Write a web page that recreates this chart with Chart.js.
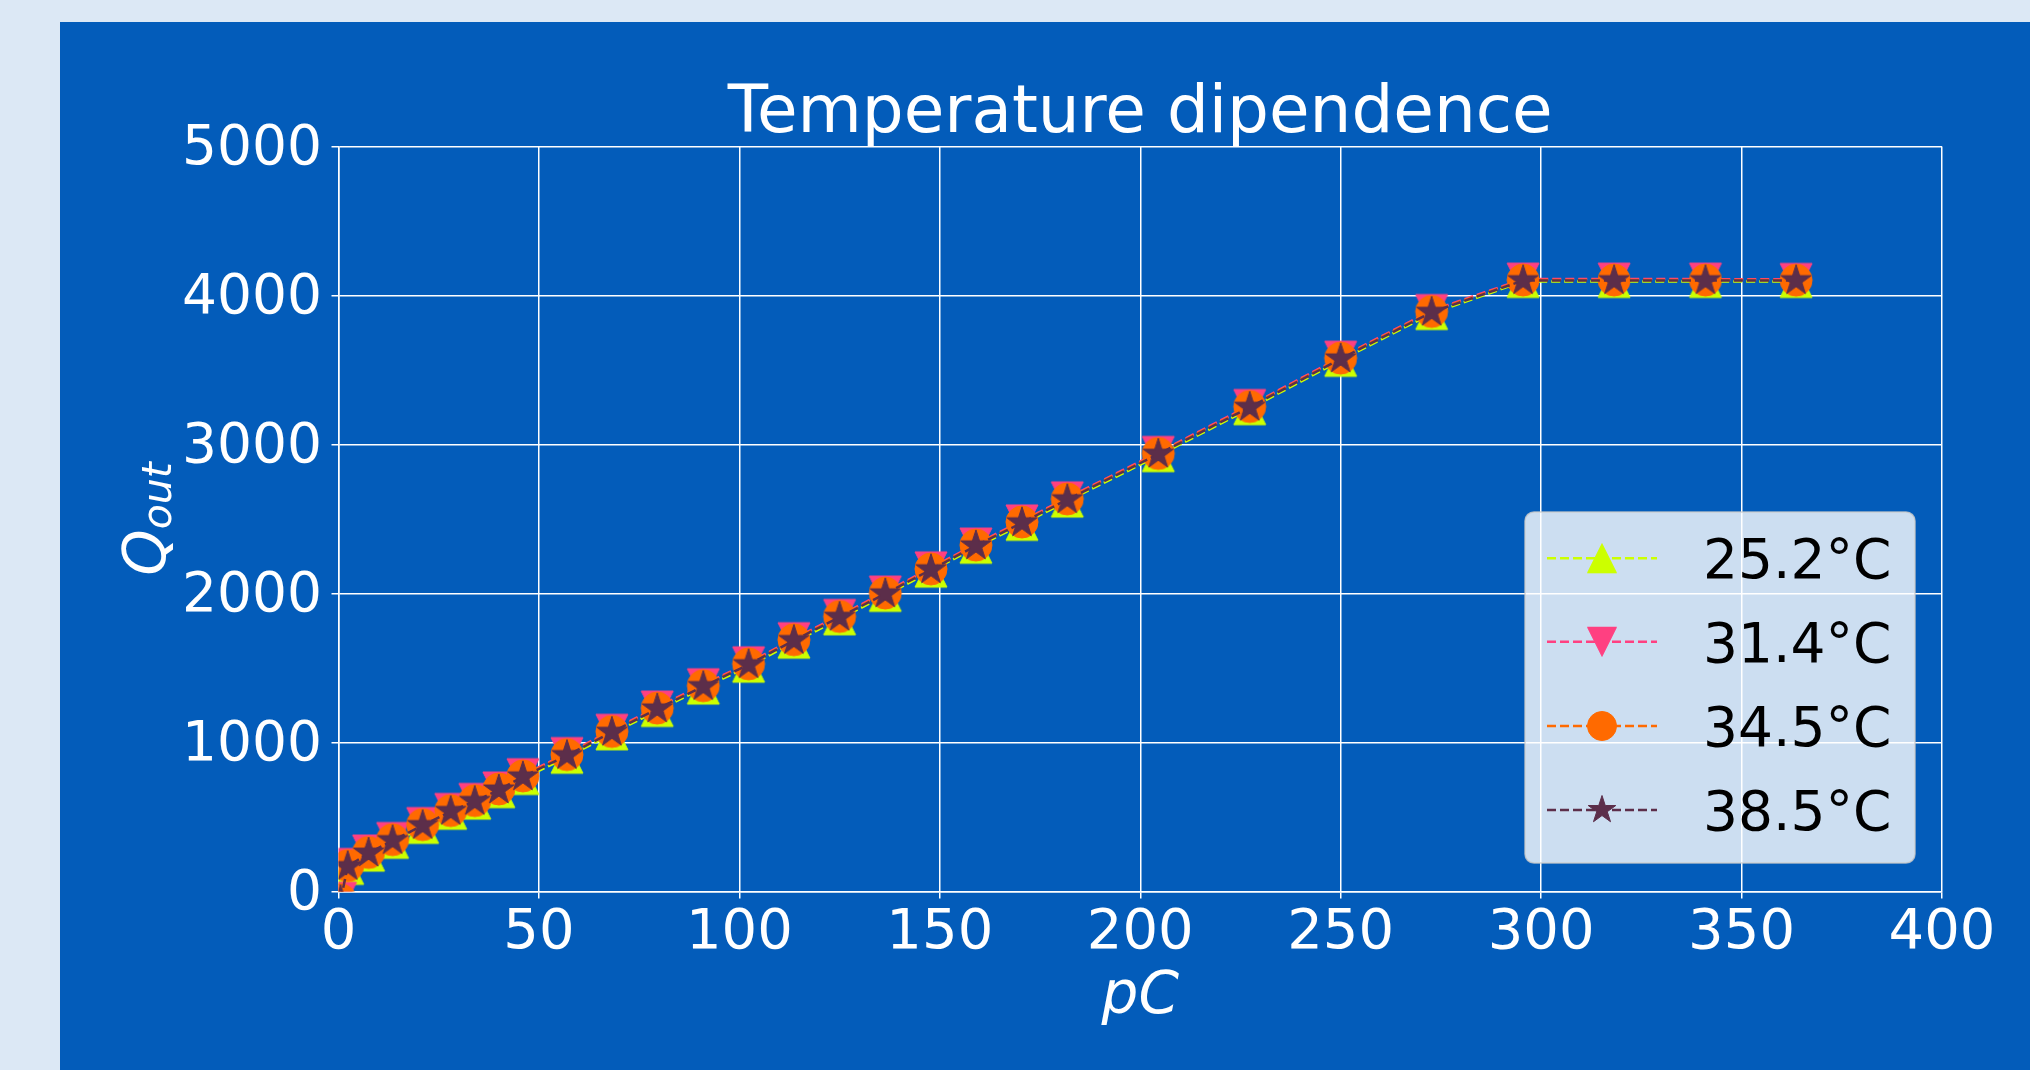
<!DOCTYPE html>
<html>
<head>
<meta charset="utf-8">
<title>Temperature dipendence</title>
<script src="https://cdn.jsdelivr.net/npm/chart.js@4.4.1/dist/chart.umd.min.js"></script>
<style>
  html, body { margin: 0; padding: 0; background: #dce8f5; }
  canvas { display: block; }
</style>
</head>
<body>
<canvas id="grafica" width="2030" height="1070"></canvas>
<script>
// datos
const pC = [0.5, 2.3, 7.5, 13.5, 21, 28, 34, 40, 46, 57, 68.2, 79.5, 91, 102.3, 113.6, 125, 136.4, 147.8, 159, 170.5, 181.8, 204.5, 227.3, 250, 272.7, 295.5, 318.2, 341, 363.6];
const q252 = [-75, 155, 244, 330, 430, 525, 593, 670, 758, 901, 1058, 1215, 1365, 1512, 1673, 1830, 1987, 2150, 2310, 2464, 2620, 2925, 3240, 3565, 3879, 4094, 4094, 4094, 4094];
const q314 = [-45, 182, 272, 356, 456, 551, 618, 695, 784, 926, 1082, 1238, 1388, 1535, 1697, 1853, 2010, 2172, 2332, 2487, 2642, 2947, 3262, 3586, 3899, 4110, 4110, 4110, 4108];
const q345 = [-55, 174, 262, 348, 449, 543, 610, 688, 776, 919, 1074, 1231, 1381, 1528, 1690, 1846, 2003, 2165, 2325, 2480, 2635, 2940, 3255, 3580, 3893, 4104, 4104, 4104, 4103];
const q385 = [-60, 168, 258, 342, 443, 538, 605, 682, 770, 913, 1069, 1226, 1376, 1523, 1685, 1841, 1998, 2160, 2320, 2475, 2630, 2935, 3250, 3575, 3888, 4100, 4100, 4100, 4100];

const etiquetas = ['25.2°C', '31.4°C', '34.5°C', '38.5°C'];
const colores = ['#ccff00', '#ff4081', '#ff6a00', '#5c2e4a'];
const formas = ['arriba', 'abajo', 'circulo', 'estrella'];
const series = [q252, q314, q345, q385];
const titulo = 'Temperature dipendence';

const fuente = "'DejaVu Sans', sans-serif";
Chart.defaults.font.family = fuente;

// marcadores tipo matplotlib (^, v, o, *)
function hacerMarcador(forma, color, r) {
    const c = document.createElement('canvas');
    c.width = 40; c.height = 40;
    const g = c.getContext('2d');
    const cx = 20, cy = 20;
    g.fillStyle = color;
    g.strokeStyle = color;
    g.lineWidth = 1;
    g.lineJoin = 'round';
    g.beginPath();
    if (forma === 'arriba') {
        g.moveTo(cx, cy - r); g.lineTo(cx + r, cy + r); g.lineTo(cx - r, cy + r);
    } else if (forma === 'abajo') {
        g.moveTo(cx, cy + r); g.lineTo(cx - r, cy - r); g.lineTo(cx + r, cy - r);
    } else if (forma === 'circulo') {
        g.arc(cx, cy, r, 0, 2 * Math.PI);
    } else {
        for (let i = 0; i < 10; i++) {
            const rr = i % 2 ? r * 0.381966 : r;
            const a = -Math.PI / 2 + i * Math.PI / 5;
            if (i === 0) g.moveTo(cx + rr * Math.cos(a), cy + rr * Math.sin(a));
            else g.lineTo(cx + rr * Math.cos(a), cy + rr * Math.sin(a));
        }
    }
    g.closePath();
    g.fill();
    g.stroke();
    return c;
}
const marcadores = formas.map((f, i) => hacerMarcador(f, colores[i], 16));
const marcadoresLeyenda = formas.map((f, i) => hacerMarcador(f, colores[i], 14.5));

const datasets = series.map((s, i) => ({
    label: etiquetas[i],
    data: pC.map((x, j) => ({ x: x, y: s[j] })),
    borderColor: colores[i],
    backgroundColor: colores[i],
    borderWidth: 2.5,
    borderDash: [9, 4],
    pointStyle: marcadores[i],
    pointRadius: 16,
    pointHoverRadius: 16,
    fill: false,
    tension: 0,
    clip: 0,
    order: 4 - i
}));

const fondo = {
    id: 'fondo',
    beforeDraw(chart) {
        const ctx = chart.ctx;
        ctx.save();
        ctx.fillStyle = '#dce8f5';
        ctx.fillRect(0, 0, chart.width, chart.height);
        ctx.fillStyle = '#035cba';
        ctx.fillRect(60, 22, chart.width - 60, chart.height - 22);
        ctx.restore();
    },
    afterDraw(chart) {
        const ctx = chart.ctx;
        const area = chart.chartArea;
        ctx.save();
        // titulo
        ctx.fillStyle = '#ffffff';
        ctx.font = '66px ' + fuente;
        ctx.textAlign = 'center';
        ctx.textBaseline = 'alphabetic';
        ctx.fillText(titulo, (area.left + area.right) / 2, 132);
        ctx.restore();

        // titulo eje y: Q_out
        ctx.save();
        ctx.fillStyle = '#ffffff';
        ctx.translate(165, (area.top + area.bottom) / 2);
        ctx.rotate(-Math.PI / 2);
        ctx.textBaseline = 'alphabetic';
        ctx.font = 'italic 59px ' + fuente;
        const wQ = ctx.measureText('Q').width;
        ctx.font = 'italic 41px ' + fuente;
        const wO = ctx.measureText('out').width;
        const x0 = -(wQ + wO) / 2;
        ctx.font = 'italic 59px ' + fuente;
        ctx.fillText('Q', x0, 0);
        ctx.font = 'italic 41px ' + fuente;
        ctx.fillText('out', x0 + wQ, 6);
        ctx.restore();

        // leyenda
        const lx = 1525, ly = 512, lw = 390, lh = 351;
        ctx.save();
        ctx.beginPath();
        ctx.roundRect(lx, ly, lw, lh, 9);
        ctx.fillStyle = 'rgba(255,255,255,0.8)';
        ctx.fill();
        ctx.strokeStyle = 'rgba(204,204,204,0.8)';
        ctx.lineWidth = 1.5;
        ctx.stroke();
        const filas = [558.3, 641.7, 726, 810];
        for (let i = 0; i < etiquetas.length; i++) {
            const y = filas[i];
            ctx.beginPath();
            ctx.setLineDash([9, 4]);
            ctx.strokeStyle = colores[i];
            ctx.lineWidth = 2.5;
            ctx.moveTo(1547, y);
            ctx.lineTo(1657, y);
            ctx.stroke();
            ctx.setLineDash([]);
            ctx.drawImage(marcadoresLeyenda[i], 1602 - 20, y - 20);
            ctx.fillStyle = '#000000';
            ctx.font = '55px ' + fuente;
            ctx.textBaseline = 'alphabetic';
            ctx.fillText(etiquetas[i], 1703, y + 20);
        }
        ctx.restore();
    }
};

const ctx = document.getElementById('grafica').getContext('2d');
const chart = new Chart(ctx, {
    type: 'line',
    data: { datasets: datasets },
    options: {
        responsive: false,
        animation: false,
        events: [],
        layout: { padding: { left: 0, right: 88, top: 146.5, bottom: 0 } },
        plugins: {
            legend: { display: false },
            tooltip: { enabled: false },
            title: { display: false }
        },
        scales: {
            x: {
                type: 'linear',
                min: 0,
                max: 400,
                ticks: {
                    stepSize: 50,
                    color: '#ffffff',
                    font: { size: 56, lineHeight: 0.9 },
                    padding: 10,
                    maxRotation: 0,
                    callback: (v) => String(v)
                },
                grid: { color: '#ffffff', lineWidth: 1.5, tickLength: 7, tickColor: '#ffffff' },
                border: { color: '#ffffff', width: 1.5 },
                title: {
                    display: true,
                    text: 'pC',
                    color: '#ffffff',
                    font: { size: 58, style: 'italic', lineHeight: 1.2 },
                    padding: { top: 0, bottom: 37 }
                },
                afterFit(s) { s.height = 178.5; s.paddingLeft = 0; s.paddingRight = 0; }
            },
            y: {
                type: 'linear',
                min: 0,
                max: 5000,
                ticks: {
                    stepSize: 1000,
                    color: '#ffffff',
                    font: { size: 55 },
                    padding: 9.5,
                    labelOffset: 3,
                    callback: (v) => String(v)
                },
                grid: { color: '#ffffff', lineWidth: 1.5, tickLength: 7, tickColor: '#ffffff' },
                border: { color: '#ffffff', width: 1.5 },
                afterFit(s) { s.width = 338.5; s.paddingTop = 0; s.paddingBottom = 0; }
            }
        }
    },
    plugins: [fondo]
});
</script>
</body>
</html>
